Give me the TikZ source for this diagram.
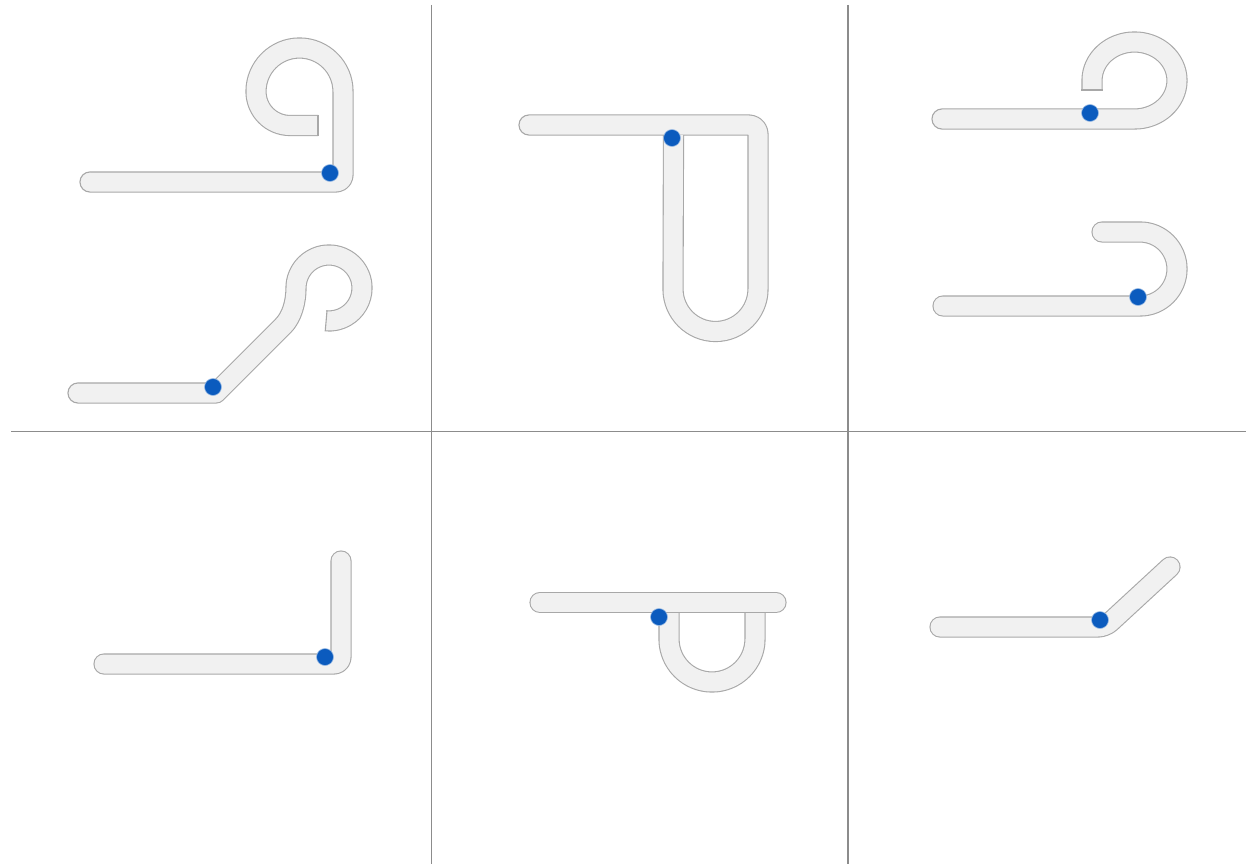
\documentclass[tikz,border=0pt]{standalone}
\definecolor{stripfill}{HTML}{F1F1F1}
\definecolor{stripedge}{HTML}{A8A8A8}
\definecolor{dotblue}{HTML}{0B5BBE}
\definecolor{gridgray}{HTML}{8C8C8C}
\begin{document}
\begin{tikzpicture}[x=1pt,y=-1pt,
  strip/.style={draw=stripedge, line width=1.1pt, double=stripfill, double distance=19pt,
                line cap=round, line join=round},
  flatend/.style={strip, line cap=butt},
  capedge/.style={draw=stripedge, fill=stripfill, line width=1.1pt},
  endline/.style={draw=stripedge, line width=1.1pt},
  hinge/.style={circle, fill=dotblue, draw=dotblue!40, line width=0.6pt, inner sep=0pt, minimum size=17pt},
  divider/.style={draw=gridgray, line width=1.3pt}]
\useasboundingbox (0,0) rectangle (1246,864);
\fill[white] (0,0) rectangle (1246,864);

% grid
\coordinate (v1t) at (431.7,5);   \coordinate (v1b) at (431.7,864);
\coordinate (v2t) at (848,5);     \coordinate (v2b) at (848,864);
\coordinate (hl)  at (11,431.7);  \coordinate (hr)  at (1246,431.7);
\draw[divider] (v1t) -- (v1b);
\draw[divider] (v2t) -- (v2b);
\draw[divider] (hl) -- (hr);

% 1: top-left, closed loop hem
\draw[flatend] (90,182) -- (336,182) arc[start angle=90, end angle=0, radius=7] -- (343,91.5)
   arc[start angle=0, end angle=-180, radius=43.5]
   arc[start angle=180, end angle=90, radius=34] -- (318,125.5);
\filldraw[capedge] (90,192.05) arc[start angle=90, end angle=270, radius=10.05];
\draw[endline] (318,114.9) -- (318,136.1);
\node[hinge] (d1) at (330,173) {};

% 2: left, angled loop
\draw[flatend] (78,393) -- (216,393) -- (283,326) .. controls (292,317) and (296,302) .. (296,288)
   arc[start angle=180, end angle=455, radius=33];
\filldraw[capedge] (78,403.05) arc[start angle=90, end angle=270, radius=10.05];
\draw[endline] (329,288) ++(95:22.4) -- ++(95:21.2);
\node[hinge] (d2) at (213,387) {};

% 3: top-middle, long U
\draw[flatend] (529,125) -- (749,125) arc[start angle=-90, end angle=0, radius=9] -- (758,289)
   arc[start angle=0, end angle=180, radius=42.5] -- (673.5,135);
\filldraw[capedge] (529,135.05) arc[start angle=90, end angle=270, radius=10.05];
\node[hinge] (d3) at (672,138) {};

% 4: top-right, curl
\draw[flatend] (942,119) -- (1134.5,119)
   arc[start angle=90, end angle=-180, x radius=42.5, y radius=38.5] -- (1092,90);
\filldraw[capedge] (942,129.05) arc[start angle=90, end angle=270, radius=10.05];
\draw[endline] (1081.4,90) -- (1102.6,90);
\node[hinge] (d4) at (1090,113) {};

% 5: right, open hook
\draw[strip] (943,306) -- (1140,306)
   arc[start angle=90, end angle=-90, radius=37] -- (1102,232);
\node[hinge] (d5) at (1138,297) {};

% 6: bottom-left, right angle
\draw[strip, rounded corners=7] (104,664) -- (341,664) -- (341,561);
\node[hinge] (d6) at (325,657) {};

% 7: bottom-middle, U under flange
\draw[flatend] (669,605) -- (669,639)
   arc[start angle=180, end angle=0, radius=43] -- (755,605);
\draw[strip] (540,602.5) -- (776,602.5);
\node[hinge] (d7) at (659,617) {};

% 8: bottom-right, angled flange
\draw[strip, rounded corners=7] (940,627) -- (1105,627) -- (1170,567);
\node[hinge] (d8) at (1100,620) {};
\end{tikzpicture}
\end{document}
